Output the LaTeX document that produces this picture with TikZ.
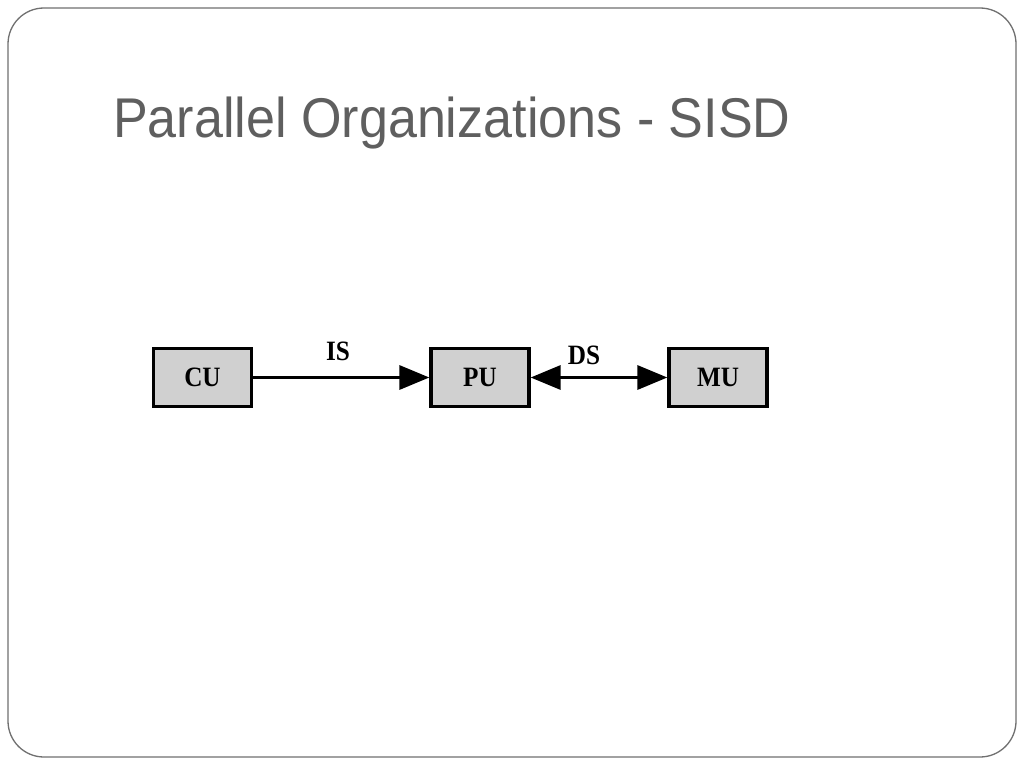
\documentclass[tikz,border=0pt]{standalone}
\usepackage{fontspec}
\setmainfont{Liberation Serif}
\newfontfamily\titlefont{Liberation Sans}
\usetikzlibrary{arrows.meta}
\definecolor{titlegray}{HTML}{5F5F5F}
\definecolor{boxgray}{HTML}{D0D0D0}
\definecolor{framegray}{HTML}{707070}
\tikzset{
  unit/.style={draw=black, line width=3.3pt, fill=boxgray, minimum width=98pt, minimum height=58pt, inner sep=0pt, font=\bfseries\fontsize{28}{28}\selectfont},
  conn/.style={line width=3.3pt, -{Triangle[length=30pt,width=24pt]}},
  biconn/.style={line width=3.3pt, {Triangle[length=30pt,width=24pt]}-{Triangle[length=30pt,width=24pt]}},
  lbl/.style={font=\bfseries\fontsize{28}{28}\selectfont, inner sep=0pt}
}
\begin{document}
\begin{tikzpicture}[x=1pt,y=-1pt]
\useasboundingbox (0,0) rectangle (1024,768);
\fill[white] (0,0) rectangle (1024,768);
\draw[framegray, line width=1.3pt, rounded corners=36pt] (8,8) rectangle (1016,757);
\node[anchor=base west, inner sep=0pt, text=titlegray, font=\titlefont\fontsize{56}{56}\selectfont] (title) at (113,137) {\scalebox{0.93}[1]{Parallel Organizations - SISD}};
\node[unit] (cu) at (202.5,377.5) {\scalebox{0.9}[1]{CU}};
\node[unit] (pu) at (480,377.5) {\scalebox{0.9}[1]{PU}};
\node[unit] (mu) at (718,377.5) {\scalebox{0.9}[1]{MU}};
\draw[conn] (cu.east) -- (pu.west);
\draw[biconn] (pu.east) -- (mu.west);
\node[lbl] (is) at (338,351) {\scalebox{0.9}[1]{IS}};
\node[lbl] (ds) at (584,355) {\scalebox{0.9}[1]{DS}};
\end{tikzpicture}
\end{document}
